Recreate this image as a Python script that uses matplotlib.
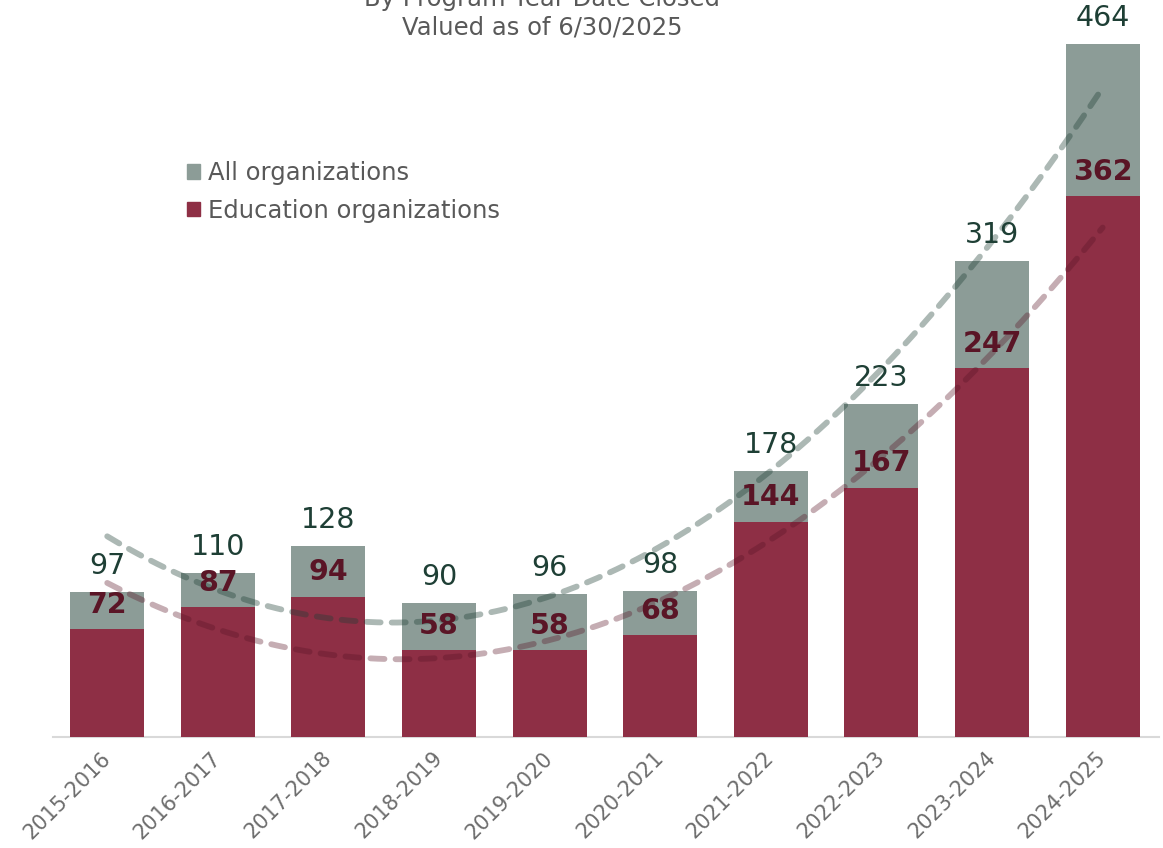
import numpy as np
import matplotlib.pyplot as plt
from matplotlib.patches import Patch

# program years and claim counts
years = ['2015-2016', '2016-2017', '2017-2018', '2018-2019', '2019-2020',
         '2020-2021', '2021-2022', '2022-2023', '2023-2024', '2024-2025']
all_orgs = [97, 110, 128, 90, 96, 98, 178, 223, 319, 464]
edu_orgs = [72, 87, 94, 58, 58, 68, 144, 167, 247, 362]

gray = '#8c9c97'
red = '#8e2f45'
gray_txt = '#1e3f35'
red_txt = '#5a1526'

fig = plt.figure(figsize=(11.63, 8.48), dpi=100)
ax = fig.add_axes([0.0456, 0.131, 0.951, 0.869])

x = np.arange(len(years))
ax.bar(x, all_orgs, width=0.67, color=gray, zorder=2)
ax.bar(x, edu_orgs, width=0.67, color=red, zorder=3)

# polynomial trendlines (order 2), see-through so they show over the bars
xs = np.linspace(0, len(years) - 1, 200)
p_all = np.polyfit(x, all_orgs, 2)
p_edu = np.polyfit(x, edu_orgs, 2)
ax.plot(xs, np.polyval(p_all, xs), color=gray_txt, alpha=0.37, lw=4.2,
        ls=(0, (2.4, 1.9)), dash_capstyle='round', zorder=4)
ax.plot(xs, np.polyval(p_edu, xs), color=red_txt, alpha=0.35, lw=4.2,
        ls=(0, (2.4, 1.9)), dash_capstyle='round', zorder=4)

for i in range(len(years)):
    ax.text(x[i], all_orgs[i] + 8, str(all_orgs[i]), ha='center', va='bottom',
            fontsize=20.5, color=gray_txt, zorder=5)
    ax.text(x[i], edu_orgs[i] + 7, str(edu_orgs[i]), ha='center', va='bottom',
            fontsize=20.5, fontweight='bold', color=red_txt, zorder=5)

ax.set_xlim(-0.49, 9.51)
ax.set_ylim(0, 493.5)
ax.set_xticks(x)
ax.set_xticklabels(years, rotation=45, ha='right', va='center',
                   rotation_mode='anchor', fontsize=15, color='#6d6d6d')
ax.tick_params(axis='x', length=0, pad=13)
ax.set_yticks([])
for s in ['top', 'right', 'left']:
    ax.spines[s].set_visible(False)
ax.spines['bottom'].set_color('#d9d9d9')
ax.spines['bottom'].set_linewidth(1.5)

handles = [Patch(color=gray, label='All organizations'),
           Patch(color=red, label='Education organizations')]
leg = ax.legend(handles=handles, loc='upper left', bbox_to_anchor=(0.101, 0.811),
                frameon=False, fontsize=17.5, handlelength=0.55, handleheight=0.55,
                handletextpad=0.35, labelspacing=0.55)
for t in leg.get_texts():
    t.set_color('#595959')

fig.text(0.466, 1.001, 'By Program Year Date Closed', ha='center', va='center',
         fontsize=17.5, color='#595959')
fig.text(0.466, 0.967, 'Valued as of 6/30/2025', ha='center', va='center',
         fontsize=17.5, color='#595959')

fig.savefig('out.png', dpi=100)
